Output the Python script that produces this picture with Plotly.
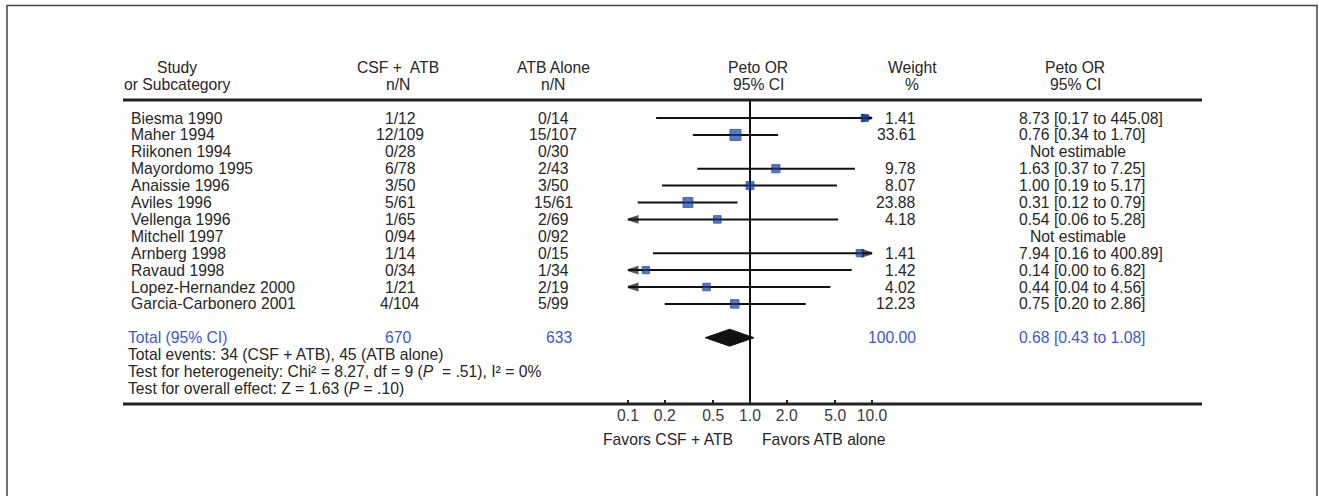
import plotly.graph_objects as go
import math

# ---------------- data ----------------
studies = ["Biesma 1990", "Maher 1994", "Riikonen 1994", "Mayordomo 1995", "Anaissie 1996",
           "Aviles 1996", "Vellenga 1996", "Mitchell 1997", "Arnberg 1998", "Ravaud 1998",
           "Lopez-Hernandez 2000", "Garcia-Carbonero 2001"]
csf_nN = ["1/12", "12/109", "0/28", "6/78", "3/50", "5/61", "1/65", "0/94", "1/14", "0/34", "1/21", "4/104"]
atb_nN = ["0/14", "15/107", "0/30", "2/43", "3/50", "15/61", "2/69", "0/92", "0/15", "1/34", "2/19", "5/99"]
weights = [1.41, 33.61, None, 9.78, 8.07, 23.88, 4.18, None, 1.41, 1.42, 4.02, 12.23]
peto_or = [8.73, 0.76, None, 1.63, 1.00, 0.31, 0.54, None, 7.94, 0.14, 0.44, 0.75]
ci_lo = [0.17, 0.34, None, 0.37, 0.19, 0.12, 0.06, None, 0.16, 0.00, 0.04, 0.20]
ci_hi = [445.08, 1.70, None, 7.25, 5.17, 0.79, 5.28, None, 400.89, 6.82, 4.56, 2.86]

total_n = [670, 633]
total_weight = 100.00
total_or = [0.68, 0.43, 1.08]
footer_lines = ["Total events: 34 (CSF + ATB), 45 (ATB alone)",
                "Test for heterogeneity: Chi² = 8.27, df = 9 (<i>P</i>\u00a0 = .51), I² = 0%",
                "Test for overall effect: Z = 1.63 (<i>P</i> = .10)"]
tick_vals = [0.1, 0.2, 0.5, 1.0, 2.0, 5.0, 10.0]
tick_text = ["0.1", "0.2", "0.5", "1.0", "2.0", "5.0", "10.0"]
axis_min, axis_max = 0.1, 10.0

# ---------------- layout geometry ----------------
W, H = 1319, 496
ROW0_PX, ROW_H = 118.0, 16.9
X1_PX, DEC_PX = 750.0, 122.0


def px(x):
    return x / W


def py(y):
    return 1 - y / H


FONT = dict(family="Liberation Sans, Arial, sans-serif", size=15.7, color="#262626")
BLUE = "#3a58d4"
SQ_COLOR = "#0f40aa"

fig = go.Figure()

rows = list(range(1, len(studies) + 1))

ARROW = dict(symbol="arrow", size=[0, 10], angleref="previous",
             color="#111111", line=dict(width=2, color="#111111"))

# CI lines and arrows
for r, o, lo, hi in zip(rows, peto_or, ci_lo, ci_hi):
    if o is None:
        continue
    lo_c = max(lo, axis_min)
    hi_c = min(hi, axis_max)
    fig.add_trace(go.Scatter(x=[lo_c, hi_c], y=[r, r], mode="lines",
                             line=dict(color="#111111", width=2), hoverinfo="skip", showlegend=False))
    if hi > axis_max:
        fig.add_trace(go.Scatter(x=[lo_c, hi_c], y=[r, r], mode="markers", marker=ARROW,
                                 hoverinfo="skip", showlegend=False))
    if lo < axis_min:
        fig.add_trace(go.Scatter(x=[hi_c, lo_c], y=[r, r], mode="markers", marker=ARROW,
                                 hoverinfo="skip", showlegend=False))

# squares
sq_x, sq_y, sq_s = [], [], []
for r, o, w in zip(rows, peto_or, weights):
    if o is None:
        continue
    sq_x.append(o)
    sq_y.append(r)
    sq_s.append(7 + 0.12 * w)
fig.add_trace(go.Scatter(x=sq_x, y=sq_y, mode="markers",
                         marker=dict(symbol="square", size=sq_s, color=SQ_COLOR,
                                     line=dict(color="#0a2466", width=1)),
                         hoverinfo="skip", showlegend=False))

# diamond for total
total_row = len(studies) + 2
t_or, t_lo, t_hi = total_or
fig.add_trace(go.Scatter(x=[t_lo, t_or, t_hi, t_or, t_lo],
                         y=[total_row, total_row - 0.5, total_row, total_row + 0.5, total_row],
                         mode="lines", fill="toself", fillcolor="#111111",
                         line=dict(color="#111111", width=1), hoverinfo="skip", showlegend=False))

# ---------------- text ----------------
ann = []


def txt(text, x_px, row, anchor="center", color=None):
    f = dict(FONT)
    if color:
        f["color"] = color
    ann.append(dict(text=text, x=px(x_px), y=row, xref="paper", yref="y",
                    xanchor=anchor, yanchor="middle", showarrow=False, font=f))


headers = [("Study", "or Subcategory", 177), ("CSF +\u00a0 ATB", "n/N", 398), ("ATB Alone", "n/N", 553),
           ("Peto OR", "95% CI", 758), ("Weight", "%", 912), ("Peto OR", "95% CI", 1075)]
for h1, h2, xc in headers:
    txt(h1, xc, -2)
    txt(h2, xc, -1)

for r, s, a, b, w, o, lo, hi in zip(rows, studies, csf_nN, atb_nN, weights, peto_or, ci_lo, ci_hi):
    txt(s, 129, r, "left")
    txt(a, 400, r)
    txt(b, 553, r)
    if o is None:
        txt("Not estimable", 1078, r)
    else:
        txt(f"{w:.2f}", 918, r, "right")
        txt(f"{o:.2f} [{lo:.2f} to {hi:.2f}]", 1017, r, "left")

txt("Total (95% CI)", 126, total_row, "left", BLUE)
txt(str(total_n[0]), 398, total_row, color=BLUE)
txt(str(total_n[1]), 559, total_row, color=BLUE)
txt(f"{total_weight:.2f}", 918, total_row, "right", BLUE)
txt(f"{t_or:.2f} [{t_lo:.2f} to {t_hi:.2f}]", 1017, total_row, "left", BLUE)

for i, line in enumerate(footer_lines):
    txt(line, 126, total_row + 1 + i, "left")

txt("Favors CSF + ATB", 735, 20, "right")
txt("Favors ATB alone", 760, 20, "left")

# ---------------- shapes ----------------
shapes = [
    dict(type="rect", xref="paper", yref="paper", x0=px(7), x1=px(1317), y0=-0.05, y1=py(5.5),
         line=dict(color="#444444", width=1.5), fillcolor="rgba(0,0,0,0)", layer="below"),
    dict(type="line", xref="paper", yref="paper", x0=px(123), x1=px(1202), y0=py(100), y1=py(100),
         line=dict(color="#222222", width=3)),
    dict(type="line", xref="paper", yref="paper", x0=px(123), x1=px(1202), y0=py(404), y1=py(404),
         line=dict(color="#222222", width=3)),
    dict(type="line", xref="x", yref="paper", x0=1, x1=1, y0=py(100), y1=py(403),
         line=dict(color="#111111", width=2), layer="below"),
]

x_lo = math.log10(1) - X1_PX / DEC_PX
x_hi = (W - X1_PX) / DEC_PX
y_top = 1 - ROW0_PX / ROW_H
y_bot = 1 + (H - ROW0_PX) / ROW_H

fig.update_layout(
    width=W, height=H, margin=dict(l=0, r=0, t=0, b=0),
    paper_bgcolor="white", plot_bgcolor="white",
    showlegend=False, annotations=ann, shapes=shapes,
    xaxis=dict(type="log", range=[x_lo, x_hi], domain=[0, 1], anchor="free", position=py(404),
               tickvals=tick_vals, ticktext=tick_text, ticks="inside", ticklen=4, tickwidth=2,
               tickcolor="#222222", showgrid=False, zeroline=False, showline=False,
               tickfont=dict(family=FONT["family"], size=15.7, color="#3a3a3a")),
    yaxis=dict(range=[y_bot, y_top], domain=[0, 1], visible=False, showgrid=False, zeroline=False),
)

fig.write_html("out.html")
